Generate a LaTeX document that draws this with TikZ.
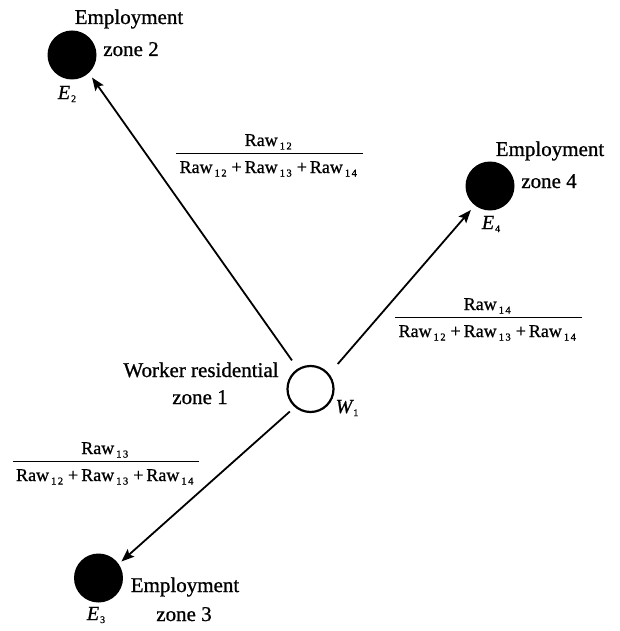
\documentclass[tikz,border=0pt]{standalone}
\usepackage{fontspec}
\setmainfont{Liberation Serif}[FakeBold=0.9]
\usetikzlibrary{arrows.meta}

% Raw with a spaced two-digit subscript
\newcommand{\rw}[2]{Raw\raisebox{-3.5pt}{\fontsize{10.5}{10.5}\selectfont\kern2pt#1\kern1.5pt#2}\kern2.5pt}
\newcommand{\pl}{\kern2.5pt+\kern3pt}
% zone symbol with a small subscript
\newcommand{\zs}[2]{#1\raisebox{-3pt}{\fontsize{10}{10}\selectfont\upshape\kern1pt#2}}

\tikzset{
  lbl/.style={font=\fontsize{21}{24}\selectfont, inner sep=0pt, anchor=base},
  fr/.style={font=\fontsize{18}{20}\selectfont, inner sep=0pt, anchor=base},
  sym/.style={font=\fontsize{20}{22}\selectfont\itshape, inner sep=0pt},
  emp/.style={circle, fill=black, minimum size=49pt, inner sep=0pt},
  res/.style={circle, draw=black, line width=2.2pt, fill=white, minimum size=46pt, inner sep=0pt},
  flow/.style={line width=1.8pt, -{Stealth[length=13pt,width=10pt,inset=2.5pt]}},
  bar/.style={line width=0.9pt}
}

\begin{document}
\begin{tikzpicture}[x=1pt, y=-1pt]
\useasboundingbox (0,0) rectangle (619,631);

% zones
\node[res] (W) at (310.5,389) {};
\node[emp] (E2) at (72,55) {};
\node[emp] (E4) at (490,186) {};
\node[emp] (E3) at (98.5,578) {};

% zone captions
\node[lbl] (t2a) at (129,24) {Employment};
\node[lbl] (t2b) at (131,56) {zone 2};
\node[lbl] (t4a) at (550,156) {Employment};
\node[lbl] (t4b) at (549,188) {zone 4};
\node[lbl] (t3a) at (185,592) {Employment};
\node[lbl] (t3b) at (184,621) {zone 3};
\node[lbl] (t1a) at (201,377) {Worker residential};
\node[lbl] (t1b) at (200,404) {zone 1};

% zone symbols
\node[sym] (s2) at (67,94) {\zs{E}{2}};
\node[sym] (s4) at (491,224) {\zs{E}{4}};
\node[sym] (s3) at (96,615) {\zs{E}{3}};
\node[sym] (s1) at (347,408) {\zs{W}{1}};

% trip flows from the residential zone
\draw[flow, shorten <=10pt, shorten >=5.5pt] (W.122) -- (E2.-47);
\draw[flow, shorten <=13pt, shorten >=6pt] (W.39) -- (E4.-128);
\draw[flow, shorten <=6.5pt, shorten >=3.5pt] (W.229) -- (E3.35);

% flow shares
\node[fr] (n12) at (269.5,146) {\rw12};
\node[fr] (d12) at (269.5,173) {\rw12\pl\rw13\pl\rw14};
\draw[bar] ([xshift=-3pt,yshift=8pt]d12.north west) -- ([xshift=3pt,yshift=8pt]d12.north east);

\node[fr] (n14) at (488.5,310) {\rw14};
\node[fr] (d14) at (488.5,337) {\rw12\pl\rw13\pl\rw14};
\draw[bar] ([xshift=-3pt,yshift=8pt]d14.north west) -- ([xshift=3pt,yshift=8pt]d14.north east);

\node[fr] (n13) at (106,454) {\rw13};
\node[fr] (d13) at (106,481) {\rw12\pl\rw13\pl\rw14};
\draw[bar] ([xshift=-3pt,yshift=8pt]d13.north west) -- ([xshift=3pt,yshift=8pt]d13.north east);
\end{tikzpicture}
\end{document}
